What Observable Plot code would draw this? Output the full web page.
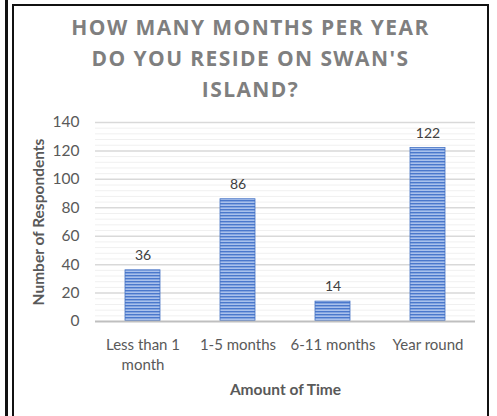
<!DOCTYPE html>
<html>
<head>
<meta charset="utf-8">
<script src="https://cdn.jsdelivr.net/npm/d3@7"></script>
<script src="https://cdn.jsdelivr.net/npm/@observablehq/plot@0.6"></script>
<style>
  html, body { margin: 0; padding: 0; background: #fff; }
  #wrap { position: relative; width: 497px; height: 416px; overflow: hidden; background: #fff; }
  #lineL { position: absolute; left: 5px; top: 0; width: 2.5px; height: 416px; background: #111; }
  #frame { position: absolute; left: 12px; top: 4px; width: 473px; height: 430px;
           border-left: 2.5px solid #111; border-top: 2px solid #111; border-right: 2.5px solid #111; }
  #title { position: absolute; left: 12px; width: 477px; top: 12px; text-align: center;
           font-family: "Open Sans", sans-serif; font-weight: bold; font-size: 21px;
           line-height: 31px; letter-spacing: 1.4px; color: #7f7f7f; }
  #chart { position: absolute; left: 0; top: 110px; }
</style>
</head>
<body>
<div id="wrap">
  <div id="lineL"></div>
  <div id="frame"></div>
  <div id="title">HOW MANY MONTHS PER YEAR<br>DO YOU RESIDE ON SWAN'S<br>ISLAND?</div>
  <div id="chart"></div>
</div>
<script>
const categories = ["Less than 1 month", "1-5 months", "6-11 months", "Year round"];
const tickLabels = ["Less than 1\nmonth", "1-5 months", "6-11 months", "Year round"];
const respondents = [36, 86, 14, 122];
const yTicks = [0, 20, 40, 60, 80, 100, 120, 140];
const yMinor = d3.range(4, 140, 4).filter(v => v % 20 !== 0);

const data = categories.map((c, i) => ({category: c, value: respondents[i]}));
const labelOf = new Map(categories.map((c, i) => [c, tickLabels[i]]));

const font = "Lato, 'Open Sans', sans-serif";

const chart = Plot.plot({
  width: 497,
  height: 306,
  marginTop: 12,
  marginBottom: 95,
  marginLeft: 95,
  marginRight: 22,
  style: {fontFamily: font, fontSize: "15px", color: "#595959", background: "transparent"},
  x: {domain: categories, paddingInner: 0.6316, paddingOuter: 0.3158, label: null},
  y: {domain: [0, 140], label: null},
  marks: [
    Plot.ruleY(yMinor, {stroke: "#f0f0f0", strokeWidth: 1}),
    Plot.ruleY(yTicks.filter(v => v > 0), {stroke: "#d9d9d9", strokeWidth: 1.5}),
    Plot.barY(data, {x: "category", y: "value", fill: "url(#stripes)", stroke: "#4472c4", strokeWidth: 0.8}),
    Plot.ruleY([0], {stroke: "#bfbfbf", strokeWidth: 2}),
    Plot.text(data, {x: "category", y: "value", text: d => String(d.value), dy: -15, fill: "#404040", fontSize: 14}),
    Plot.axisY({ticks: yTicks, tickSize: 0, tickPadding: 16, fontSize: 15.5, fill: "#595959",
      label: null}),
    Plot.text(["Number of Respondents"], {frameAnchor: "left", textAnchor: "middle", dx: -56, rotate: -90,
      fontWeight: "bold", fontSize: 15.5, fill: "#595959"}),
    Plot.axisX({tickSize: 0, tickPadding: 14, fontSize: 15, fill: "#595959",
      tickFormat: d => labelOf.get(d), lineHeight: 1.33, label: null}),
    Plot.text(["Amount of Time"], {frameAnchor: "bottom", dy: 73, fontWeight: "bold", fontSize: 15.5, fill: "#595959"})
  ]
});

// stripe pattern for bars
const ns = "http://www.w3.org/2000/svg";
const defs = document.createElementNS(ns, "defs");
defs.innerHTML = `<pattern id="stripes" patternUnits="userSpaceOnUse" width="8" height="3">
  <rect width="8" height="3" fill="#a9c1ec"></rect>
  <rect width="8" height="1.4" fill="#4a78cc"></rect>
</pattern>`;
chart.insertBefore(defs, chart.firstChild);

document.getElementById("chart").appendChild(chart);
</script>
</body>
</html>
